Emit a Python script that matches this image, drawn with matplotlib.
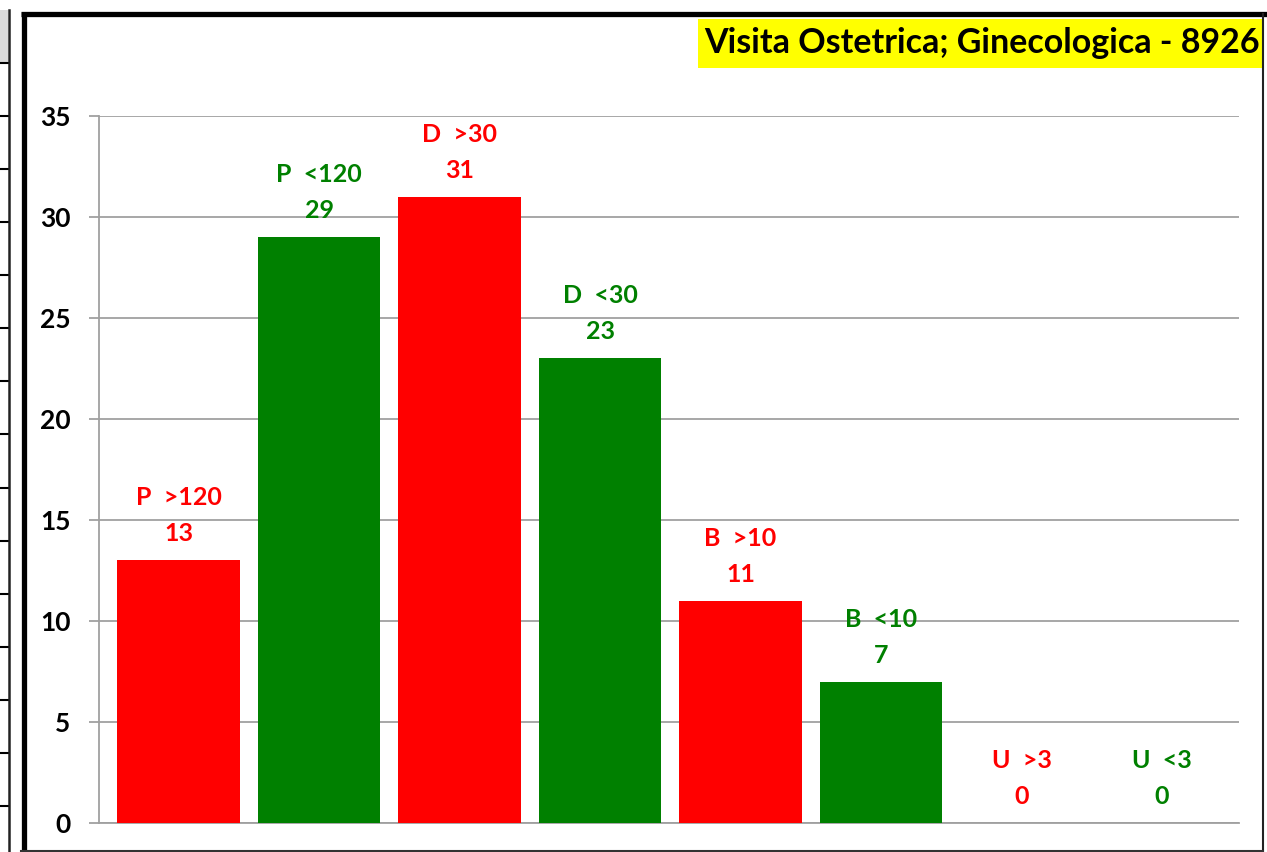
import matplotlib
matplotlib.use("Agg")
import matplotlib.pyplot as plt
from matplotlib.lines import Line2D
from matplotlib.patches import Rectangle

categories = ["P  >120", "P  <120", "D  >30", "D  <30", "B  >10", "B  <10", "U  >3", "U  <3"]
values = [13, 29, 31, 23, 11, 7, 0, 0]
bar_colors = ["#FF0000", "#008000", "#FF0000", "#008000", "#FF0000", "#008000", "#FF0000", "#008000"]
y_ticks = [0, 5, 10, 15, 20, 25, 30, 35]
title = "Visita Ostetrica; Ginecologica - 8926"

W, H = 1267, 852
plt.rcParams['font.family'] = ['Lato', 'DejaVu Sans']
fig = plt.figure(figsize=(W / 100, H / 100), dpi=100)
fig.patch.set_facecolor("white")

# overlay for frame decorations (pixel coords)
ov = fig.add_axes([0, 0, 1, 1], zorder=0)
ov.set_xlim(0, W)
ov.set_ylim(H, 0)
ov.axis("off")
ov.patch.set_alpha(0)

# spreadsheet strip at left
ov.add_patch(Rectangle((0, 10), 8, 53, facecolor="#D9D9D9", edgecolor="none"))
for k in range(15):
    yy = 63 + k * 53.07
    ov.add_line(Line2D([0, 8], [yy, yy], color="black", lw=1.5))
ov.add_line(Line2D([9, 9], [10, H], color="#222222", lw=1.8))

# chart frame
ov.add_line(Line2D([23.5, 23.5], [12, H], color="black", lw=3.8, solid_capstyle="butt"))
ov.add_line(Line2D([21, W], [14.3, 14.3], color="black", lw=3.8, solid_capstyle="butt"))
ov.add_line(Line2D([1263, 1263], [14, H], color="#222222", lw=1.5))
ov.add_line(Line2D([21, 1263], [850.5, 850.5], color="#333333", lw=1.5))

# title box
ov.add_patch(Rectangle((698, 19), 1262 - 698, 68 - 19, facecolor="#FFFF00", edgecolor="none"))
ov.text(982.5, 53, title, ha="center", va="baseline", fontsize=24.5, fontweight="bold", color="black")

# main axes
ax = fig.add_axes([99 / W, 1 - 823 / H, 1140 / W, (823 - 116) / H], zorder=1)
ax.patch.set_alpha(0)
x = list(range(len(categories)))
ax.bar(x, values, width=0.875, color=bar_colors, zorder=3)
ax.set_xlim(-0.566, 7.548)
ax.set_ylim(0, 35)
ax.set_yticks(y_ticks)
ax.set_yticklabels([str(t) for t in y_ticks], fontsize=19, fontweight="bold", color="black")
ax.set_xticks([])
ax.grid(axis="y", color="#A0A0A0", lw=1.3, zorder=0)
for s in ["top", "right"]:
    ax.spines[s].set_visible(False)
for s in ["left", "bottom"]:
    ax.spines[s].set_color("#A0A0A0")
    ax.spines[s].set_linewidth(1.3)
ax.tick_params(axis="y", direction="out", length=7.2, width=1.3, color="#A0A0A0", pad=13.5)

for xi, v, c, lab in zip(x, values, bar_colors, categories):
    ax.annotate(str(v), (xi, v), xytext=(0, 13.7), textcoords="offset points",
                ha="center", va="baseline", fontsize=18, fontweight="bold", color=c)
    ax.annotate(lab, (xi, v), xytext=(0, 39.6), textcoords="offset points",
                ha="center", va="baseline", fontsize=18, fontweight="bold", color=c)

fig.savefig("out.png", dpi=100)
